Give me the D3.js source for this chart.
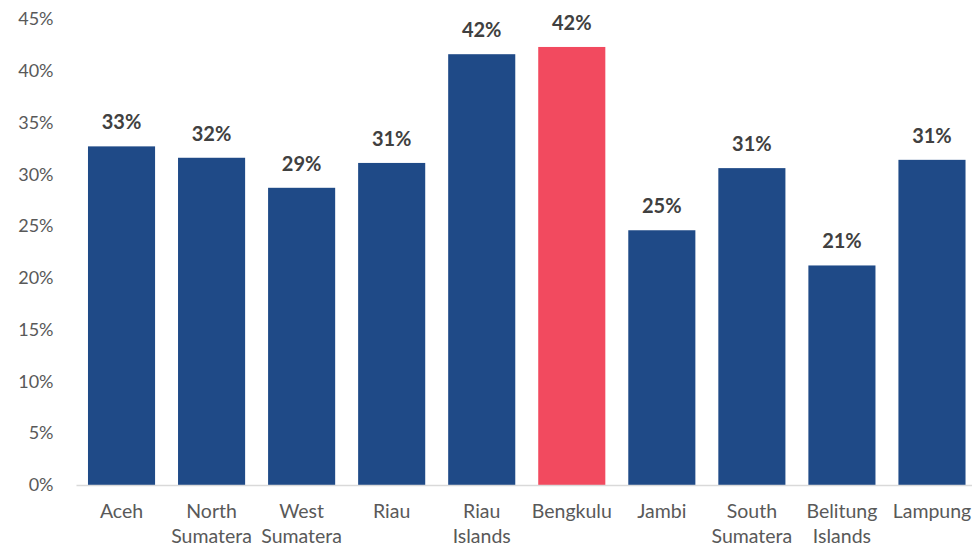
<!DOCTYPE html>
<html>
<head>
<meta charset="utf-8">
<script src="https://cdn.jsdelivr.net/npm/d3@7"></script>
<style>
  body { margin: 0; background: #fff; }
  svg { display: block; font-family: Lato, "Open Sans", sans-serif; }
</style>
</head>
<body>
<div class="chart"></div>
<script>
var width = 972,
    height = 546,
    margin = {top: 19, right: -5, bottom: 61, left: 76.5};

// data
var provinces = ["Aceh", "North Sumatera", "West Sumatera", "Riau", "Riau Islands",
                 "Bengkulu", "Jambi", "South Sumatera", "Belitung Islands", "Lampung"];
var labelLines = [["Aceh"], ["North", "Sumatera"], ["West", "Sumatera"], ["Riau"], ["Riau", "Islands"],
                  ["Bengkulu"], ["Jambi"], ["South", "Sumatera"], ["Belitung", "Islands"], ["Lampung"]];
var shares = [0.327, 0.316, 0.287, 0.311, 0.416, 0.423, 0.246, 0.306, 0.212, 0.314];
var highlight = "Bengkulu";
var yTicks = [0, 0.05, 0.10, 0.15, 0.20, 0.25, 0.30, 0.35, 0.40, 0.45];

var svg = d3.select("div.chart")
    .append("svg")
    .attr("width", width)
    .attr("height", height);

var x = d3.scaleBand()
    .domain(provinces)
    .range([margin.left, width - margin.right])
    .paddingInner(0.255)
    .paddingOuter(0.1275);

var y = d3.scaleLinear()
    .domain([0, 0.45])
    .range([height - margin.bottom, margin.top]);

// y axis labels only (no line)
var yAxis = svg.append("g")
    .attr("transform", "translate(" + margin.left + ",0)")
    .call(d3.axisLeft(y).tickValues(yTicks).tickFormat(d3.format(".0%")).tickSize(0).tickPadding(23));
yAxis.select(".domain").remove();
yAxis.selectAll("text")
    .attr("fill", "#595959")
    .style("font-size", "18px")
    .style("font-family", "Lato, 'Open Sans', sans-serif");

// bars
svg.selectAll("rect.bar")
    .data(provinces)
    .enter()
    .append("rect")
    .attr("class", "bar")
    .attr("x", function(d) { return x(d); })
    .attr("width", x.bandwidth())
    .attr("y", function(d, i) { return y(shares[i]); })
    .attr("height", function(d, i) { return y(0) - y(shares[i]); })
    .attr("fill", function(d) { return d == highlight ? "#f24a5f" : "#1f4a87"; });

// baseline
svg.append("line")
    .attr("x1", margin.left)
    .attr("x2", width)
    .attr("y1", y(0) + 0.5)
    .attr("y2", y(0) + 0.5)
    .attr("stroke", "#d9d9d9")
    .attr("stroke-width", 1.5);

// value labels
svg.selectAll("text.value")
    .data(provinces)
    .enter()
    .append("text")
    .attr("class", "value")
    .attr("x", function(d) { return x(d) + x.bandwidth() / 2; })
    .attr("y", function(d, i) { return y(shares[i]) - 17; })
    .attr("text-anchor", "middle")
    .attr("fill", "#404040")
    .style("font-size", "20px")
    .style("font-weight", "bold")
    .text(function(d, i) { return d3.format(".0%")(shares[i]); });

// category labels
var cat = svg.selectAll("text.cat")
    .data(provinces)
    .enter()
    .append("text")
    .attr("class", "cat")
    .attr("x", function(d) { return x(d) + x.bandwidth() / 2; })
    .attr("y", y(0) + 33)
    .attr("text-anchor", "middle")
    .attr("fill", "#595959")
    .style("font-size", "19.5px");

cat.selectAll("tspan")
    .data(function(d, i) { return labelLines[i]; })
    .enter()
    .append("tspan")
    .attr("x", function() { return d3.select(this.parentNode).attr("x"); })
    .attr("dy", function(d, i) { return i == 0 ? 0 : 24.5; })
    .text(function(d) { return d; });
</script>
</body>
</html>
